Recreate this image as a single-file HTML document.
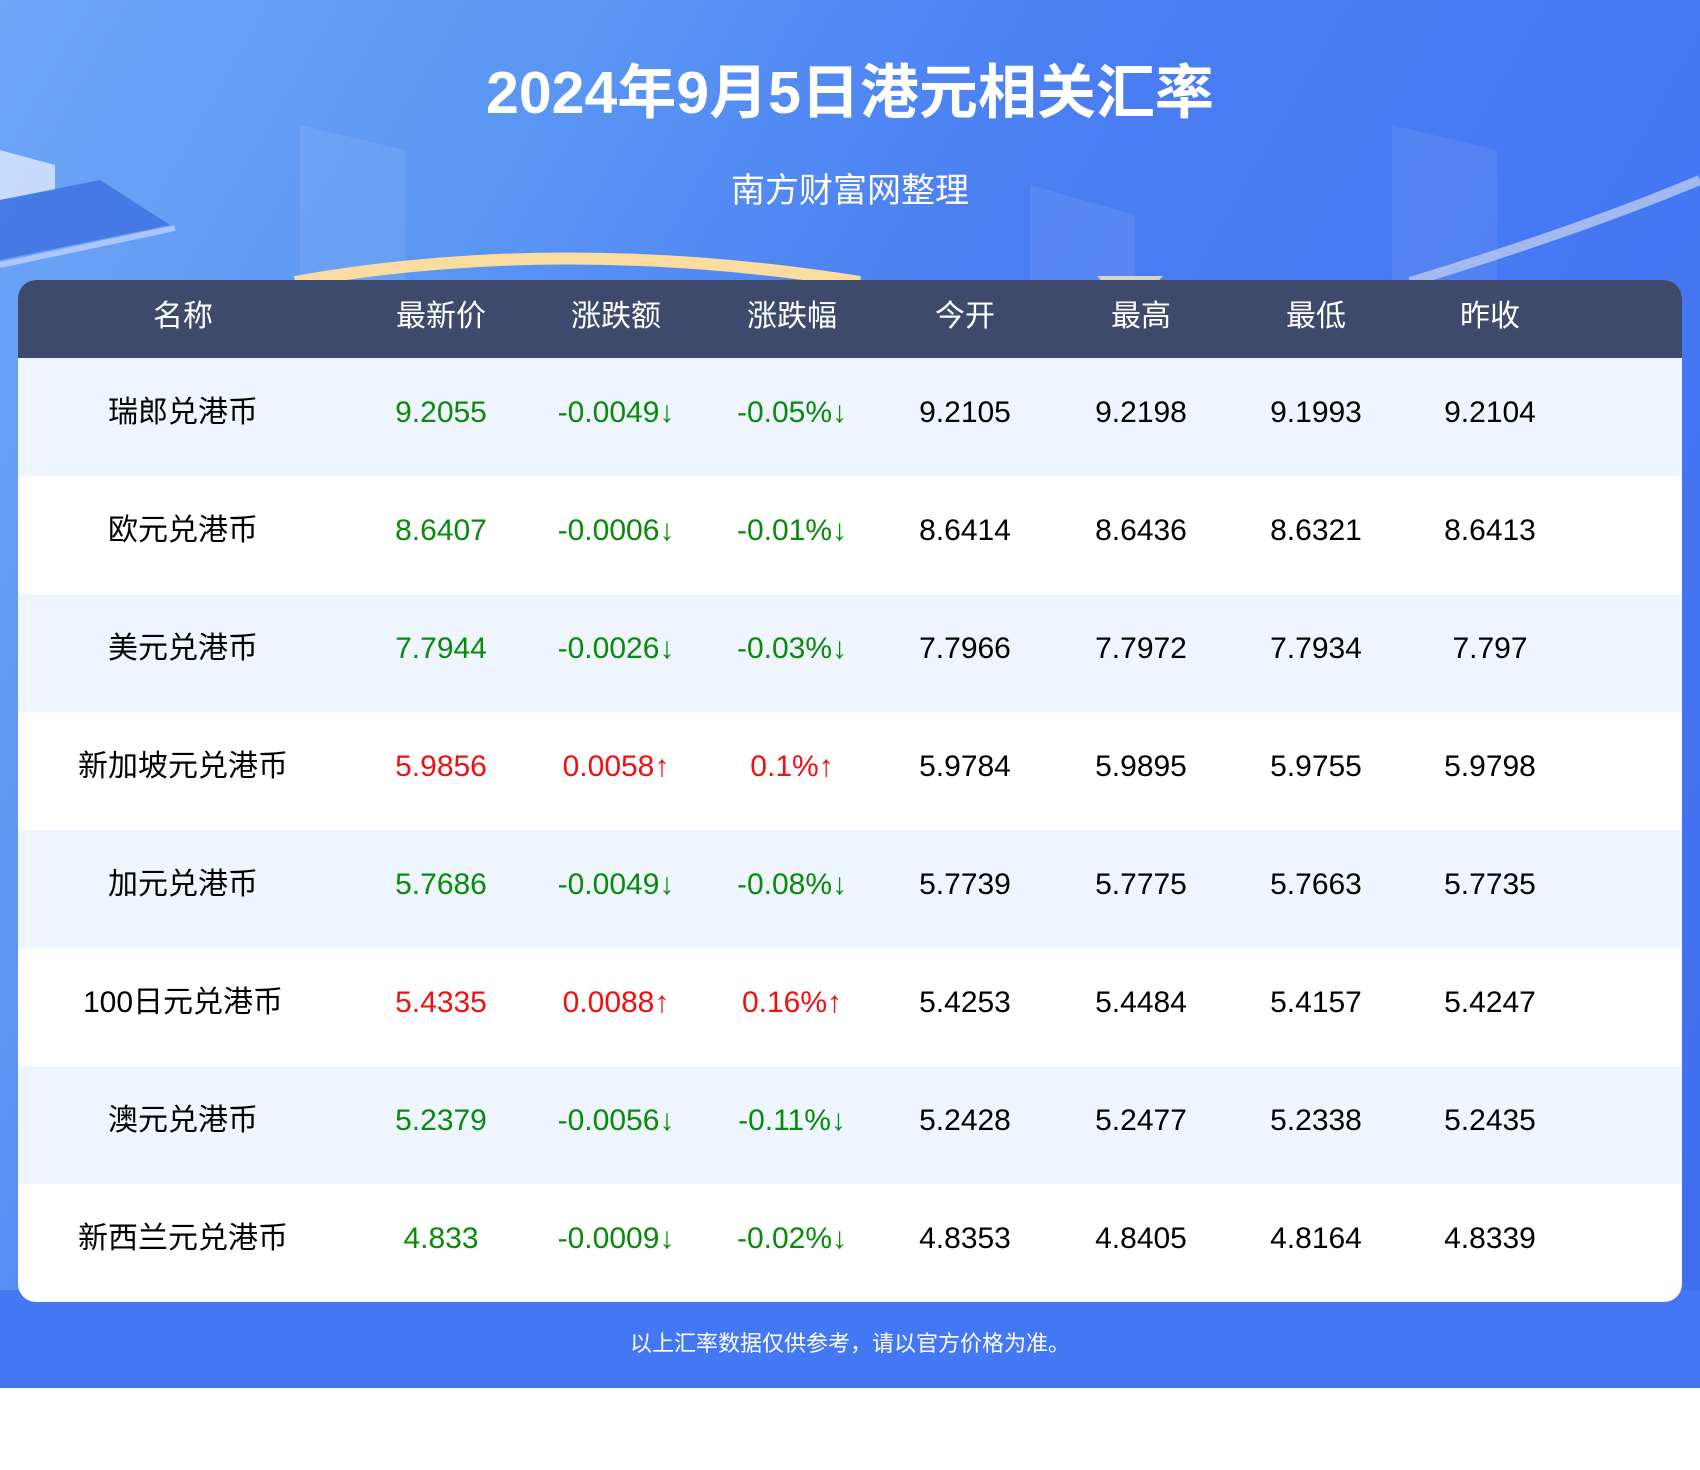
<!DOCTYPE html>
<html><head><meta charset="utf-8"><style>
*{margin:0;padding:0;box-sizing:border-box}
body{width:1700px;height:1470px;background:#fff;font-family:"Liberation Sans","Noto Sans CJK SC",sans-serif;position:relative;overflow:hidden}
.bg{position:absolute;left:0;top:0;width:1700px;height:1388px;background:linear-gradient(120deg,#6fa6f6 0%,#5a95f4 25%,#4a7ef2 45%,#4577f3 70%,#3f6fef 100%)}
.foot{position:absolute;left:0;top:1290px;width:1700px;height:98px;background:#4477f4}
.title{position:absolute;left:0;top:45px;width:1700px;text-align:center;color:#fff;font-size:59px;font-weight:bold}
.sub{position:absolute;left:0;top:163px;width:1700px;text-align:center;color:#fff;font-size:34px}
.card{position:absolute;left:18px;top:280px;width:1664px;height:1022px;background:#fff;border-radius:18px;overflow:hidden}
.row{position:absolute;left:0;width:1664px;height:118px}
.hd{top:0;height:78px;background:#3d4a6b;color:#fff}
.row span{position:absolute;width:240px;margin-left:-120px;text-align:center;font-size:30px;line-height:110px}
.hd span{line-height:74px;font-size:30px}
.alt{background:#eef5fe}
.g{color:#0a8a0a}.r{color:#f01010}
.note{position:absolute;left:0;top:1326px;width:1700px;text-align:center;color:#fff;font-size:22px}
</style></head><body>
<div class="bg"></div>
<svg style="position:absolute;left:0;top:0" width="1700" height="300">
<polygon points="300,125 405,150 405,290 300,290" fill="#fff" opacity="0.08"/>
<polygon points="1030,185 1135,215 1135,290 1030,290" fill="#fff" opacity="0.08"/>
<polygon points="1392,125 1497,150 1497,290 1392,290" fill="#fff" opacity="0.07"/>
<polygon points="0,150 55,165 55,190 0,200" fill="#dfe8ff" opacity="0.8"/>
<polygon points="0,200 100,180 170,225 0,260" fill="#3d6fe0" opacity="0.8"/>
<path d="M0,265 L175,228" stroke="#c8d8ff" stroke-width="6" opacity="0.7"/>
<path d="M295,282 Q560,235 860,282" stroke="#fbdca0" stroke-width="12" fill="none"/>
<path d="M1410,282 Q1580,230 1700,180" stroke="#b9c9f0" stroke-width="10" fill="none" opacity="0.8"/>
<polygon points="1097,276 1163,276 1150,290 1110,290" fill="#d8d4c8"/>
</svg>
<div class="foot"></div>
<div class="title">2024年9月5日港元相关汇率</div>
<div class="sub">南方财富网整理</div>
<div class="card">
<div class="row hd"><span style="left:165px">名称</span><span style="left:423px">最新价</span><span style="left:598px">涨跌额</span><span style="left:774px">涨跌幅</span><span style="left:947px">今开</span><span style="left:1123px">最高</span><span style="left:1298px">最低</span><span style="left:1472px">昨收</span></div>
<div class="row alt" style="top:78px"><span style="left:165px">瑞郎兑港币</span><span class="g" style="left:423px">9.2055</span><span class="g" style="left:598px">-0.0049↓</span><span class="g" style="left:774px">-0.05%↓</span><span style="left:947px">9.2105</span><span style="left:1123px">9.2198</span><span style="left:1298px">9.1993</span><span style="left:1472px">9.2104</span></div>
<div class="row" style="top:196px"><span style="left:165px">欧元兑港币</span><span class="g" style="left:423px">8.6407</span><span class="g" style="left:598px">-0.0006↓</span><span class="g" style="left:774px">-0.01%↓</span><span style="left:947px">8.6414</span><span style="left:1123px">8.6436</span><span style="left:1298px">8.6321</span><span style="left:1472px">8.6413</span></div>
<div class="row alt" style="top:314px"><span style="left:165px">美元兑港币</span><span class="g" style="left:423px">7.7944</span><span class="g" style="left:598px">-0.0026↓</span><span class="g" style="left:774px">-0.03%↓</span><span style="left:947px">7.7966</span><span style="left:1123px">7.7972</span><span style="left:1298px">7.7934</span><span style="left:1472px">7.797</span></div>
<div class="row" style="top:432px"><span style="left:165px">新加坡元兑港币</span><span class="r" style="left:423px">5.9856</span><span class="r" style="left:598px">0.0058↑</span><span class="r" style="left:774px">0.1%↑</span><span style="left:947px">5.9784</span><span style="left:1123px">5.9895</span><span style="left:1298px">5.9755</span><span style="left:1472px">5.9798</span></div>
<div class="row alt" style="top:550px"><span style="left:165px">加元兑港币</span><span class="g" style="left:423px">5.7686</span><span class="g" style="left:598px">-0.0049↓</span><span class="g" style="left:774px">-0.08%↓</span><span style="left:947px">5.7739</span><span style="left:1123px">5.7775</span><span style="left:1298px">5.7663</span><span style="left:1472px">5.7735</span></div>
<div class="row" style="top:668px"><span style="left:165px">100日元兑港币</span><span class="r" style="left:423px">5.4335</span><span class="r" style="left:598px">0.0088↑</span><span class="r" style="left:774px">0.16%↑</span><span style="left:947px">5.4253</span><span style="left:1123px">5.4484</span><span style="left:1298px">5.4157</span><span style="left:1472px">5.4247</span></div>
<div class="row alt" style="top:786px"><span style="left:165px">澳元兑港币</span><span class="g" style="left:423px">5.2379</span><span class="g" style="left:598px">-0.0056↓</span><span class="g" style="left:774px">-0.11%↓</span><span style="left:947px">5.2428</span><span style="left:1123px">5.2477</span><span style="left:1298px">5.2338</span><span style="left:1472px">5.2435</span></div>
<div class="row" style="top:904px"><span style="left:165px">新西兰元兑港币</span><span class="g" style="left:423px">4.833</span><span class="g" style="left:598px">-0.0009↓</span><span class="g" style="left:774px">-0.02%↓</span><span style="left:947px">4.8353</span><span style="left:1123px">4.8405</span><span style="left:1298px">4.8164</span><span style="left:1472px">4.8339</span></div>
</div>
<div class="note">以上汇率数据仅供参考，请以官方价格为准。</div>
</body></html>
